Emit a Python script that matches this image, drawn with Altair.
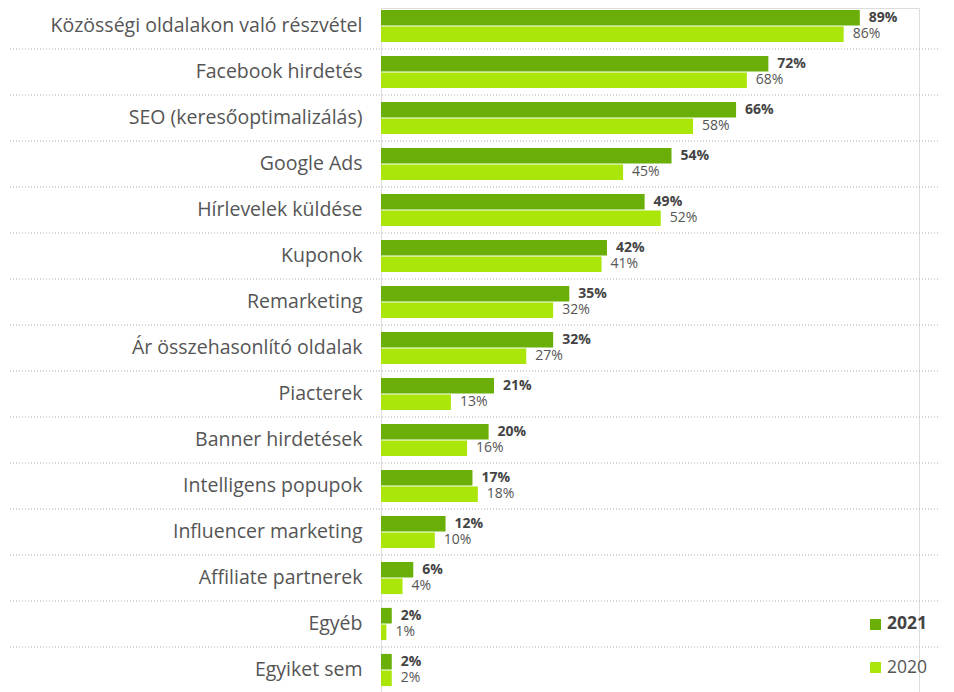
import altair as alt
import pandas as pd

categories = [
    "Közösségi oldalakon való részvétel",
    "Facebook hirdetés",
    "SEO (keresőoptimalizálás)",
    "Google Ads",
    "Hírlevelek küldése",
    "Kuponok",
    "Remarketing",
    "Ár összehasonlító oldalak",
    "Piacterek",
    "Banner hirdetések",
    "Intelligens popupok",
    "Influencer marketing",
    "Affiliate partnerek",
    "Egyéb",
    "Egyiket sem",
]
values_2021 = [89, 72, 66, 54, 49, 42, 35, 32, 21, 20, 17, 12, 6, 2, 2]
values_2020 = [86, 68, 58, 45, 52, 41, 32, 27, 13, 16, 18, 10, 4, 1, 2]
series = ["2021", "2020"]
separators = list(range(1, 15))

C21 = "#6aaf08"
C20 = "#aae60a"
FONT = "Open Sans"

rows = []
for c, a, b in zip(categories, values_2021, values_2020):
    rows.append({"cat": c, "series": "2021", "v": a, "lbl": f"{a}%"})
    rows.append({"cat": c, "series": "2020", "v": b, "lbl": f"{b}%"})
df = pd.DataFrame(rows)

yscale = alt.Scale(domain=categories, range=[-5, 685], paddingInner=0.3, paddingOuter=0.15)
yenc = alt.Y("cat:N", scale=yscale, sort=categories,
             axis=alt.Axis(title=None, domain=False, ticks=False, grid=False,
                           labelPadding=19, labelFontSize=19.5, labelColor="#555555",
                           labelFont=FONT, labelLimit=400))
yoff = alt.YOffset("series:N", sort=series, scale=alt.Scale(domain=series, paddingInner=0.06))
xenc = alt.X("v:Q", scale=alt.Scale(domain=[0, 100]), axis=None)

base = alt.Chart(df)

bars = base.mark_bar().encode(
    x=xenc, y=yenc, yOffset=yoff,
    color=alt.Color("series:N", scale=alt.Scale(domain=series, range=[C21, C20]), legend=None),
)

txt21 = base.transform_filter(alt.datum.series == "2021").mark_text(
    align="left", baseline="middle", dx=9, font=FONT, fontSize=14, fontWeight="bold", color="#444444"
).encode(x=xenc, y=yenc, yOffset=yoff, text="lbl:N")

txt20 = base.transform_filter(alt.datum.series == "2020").mark_text(
    align="left", baseline="middle", dx=9, font=FONT, fontSize=14, color="#555555"
).encode(x=xenc, y=yenc, yOffset=yoff, text="lbl:N")

main = alt.layer(bars, txt21, txt20)

sep = alt.Chart(pd.DataFrame({"pos": separators})).mark_rule(
    color="#aaaaaa", strokeDash=[1, 2], strokeWidth=1
).encode(
    y=alt.Y("pos:Q", scale=alt.Scale(domain=[0, 15], range=[-5, 685]), axis=None),
    x=alt.value(-371), x2=alt.value(557),
)

leg_df = pd.DataFrame({"s": ["2021"]})
sq21 = alt.Chart(leg_df).mark_point(shape="square", filled=True, size=121, opacity=1, color=C21).encode(
    x=alt.value(494.5), y=alt.value(616.5))
sq20 = alt.Chart(leg_df).mark_point(shape="square", filled=True, size=121, opacity=1, color=C20).encode(
    x=alt.value(494.5), y=alt.value(659.5))
lt21 = alt.Chart(pd.DataFrame({"t": ["2021"]})).mark_text(
    align="left", baseline="middle", font=FONT, fontSize=17.5, fontWeight="bold", color="#444444"
).encode(x=alt.value(506), y=alt.value(616), text="t:N")
lt20 = alt.Chart(pd.DataFrame({"t": ["2020"]})).mark_text(
    align="left", baseline="middle", font=FONT, fontSize=17.5, color="#555555"
).encode(x=alt.value(506), y=alt.value(660), text="t:N")

chart = alt.layer(sep, main, sq21, sq20, lt21, lt20).resolve_scale(
    y="independent"
).properties(
    width=538, height=684,
    autosize=alt.AutoSizeParams(type="none"),
    padding={"left": 373, "right": 27, "top": 0, "bottom": 0},
).configure_view(strokeWidth=0, stroke="transparent").configure_axis(
    domainColor="#ff0000", tickColor="#0000ff", gridColor="#00ff00"
).configure(background="white")

chart.save("out.html", embed_options={"renderer": "svg", "actions": False})
